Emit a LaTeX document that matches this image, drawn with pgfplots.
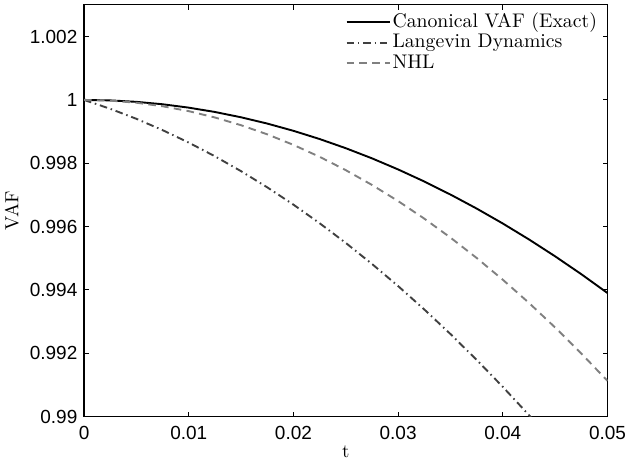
\documentclass[border=0pt]{standalone}
\usepackage{fontspec}
\usepackage{pgfplots}
\pgfplotsset{compat=1.18}
\usepackage{pgfplotstable}
\newfontfamily\arial{Liberation Sans}
\definecolor{langc}{rgb}{0.25,0.25,0.25}
\definecolor{nhlc}{rgb}{0.5,0.5,0.5}

\pgfplotstableread{
t exact
0 1
0.0025 0.999985
0.005 0.999939
0.0075 0.999863
0.01 0.999756
0.0125 0.999619
0.015 0.999451
0.0175 0.999253
0.02 0.999024
0.0225 0.998765
0.025 0.998475
0.0275 0.998155
0.03 0.997804
0.0325 0.997423
0.035 0.997011
0.0375 0.996569
0.04 0.996096
0.0425 0.995593
0.045 0.995059
0.0475 0.994495
0.05 0.993900
}\exacttab

\pgfplotstableread{
t lang
0 1
0.0025 0.999720
0.005 0.999403
0.0075 0.999046
0.01 0.998652
0.0125 0.998219
0.015 0.997749
0.0175 0.997239
0.02 0.996692
0.0225 0.996106
0.025 0.995483
0.0275 0.994820
0.03 0.994120
0.0325 0.993381
0.035 0.992605
0.0375 0.991789
0.04 0.990936
0.0425 0.990044
0.045 0.989115
}\langtab

\pgfplotstableread{
t nhl
0 1
0.0025 0.999978
0.005 0.999911
0.0075 0.999800
0.01 0.999645
0.0125 0.999445
0.015 0.999201
0.0175 0.998913
0.02 0.998580
0.0225 0.998203
0.025 0.997781
0.0275 0.997315
0.03 0.996805
0.0325 0.996250
0.035 0.995651
0.0375 0.995008
0.04 0.994320
0.0425 0.993588
0.045 0.992811
0.0475 0.991990
0.05 0.991125
}\nhltab

\begin{document}
\begin{tikzpicture}
\begin{axis}[
  scale only axis,
  width=276pt, height=217pt,
  xmin=0, xmax=0.05, ymin=0.99, ymax=1.003,
  xtick={0,0.01,0.02,0.03,0.04,0.05},
  xticklabels={0,0.01,0.02,0.03,0.04,0.05},
  ytick={0.99,0.992,0.994,0.996,0.998,1,1.002},
  yticklabels={0.99,0.992,0.994,0.996,0.998,1,1.002},
  scaled x ticks=false, scaled y ticks=false,
  tick align=inside,
  major tick length=2.6pt,
  axis line style={line width=0.6pt},
  tick style={line width=0.5pt, black},
  ticklabel style={font=\arial},
  xticklabel style={yshift=-1.5pt},
  /pgf/number format/assume math mode=true,
  xlabel={t}, ylabel={VAF},
  xlabel style={yshift=3.5pt},
  ylabel style={yshift=-1pt},
  legend cell align=left,
  legend style={draw=none, fill=none, at={(0.995,0.995)}, anchor=north east,
    nodes={inner sep=1pt}, font=\fontsize{10.4}{12}\selectfont},
  legend image code/.code={\draw[#1] plot coordinates {(0cm,0cm) (0.8cm,0cm)};},
  clip=true,
]
\addplot[black, line width=1pt] table[x=t, y=exact] {\exacttab};
\addlegendentry{Canonical VAF (Exact)}
\addplot[langc, line width=1pt, dash pattern=on 4pt off 2pt on 0.8pt off 2pt] table[x=t, y=lang] {\langtab};
\addlegendentry{Langevin Dynamics}
\addplot[nhlc, line width=1pt, dash pattern=on 4pt off 2.8pt] table[x=t, y=nhl] {\nhltab};
\addlegendentry{NHL}
\end{axis}
\pgfresetboundingbox
\path[use as bounding box] ([shift={(-44.3pt,-23.9pt)}]current axis.south west) rectangle ([shift={(9.75pt,2.6pt)}]current axis.north east);
\end{tikzpicture}
\end{document}
